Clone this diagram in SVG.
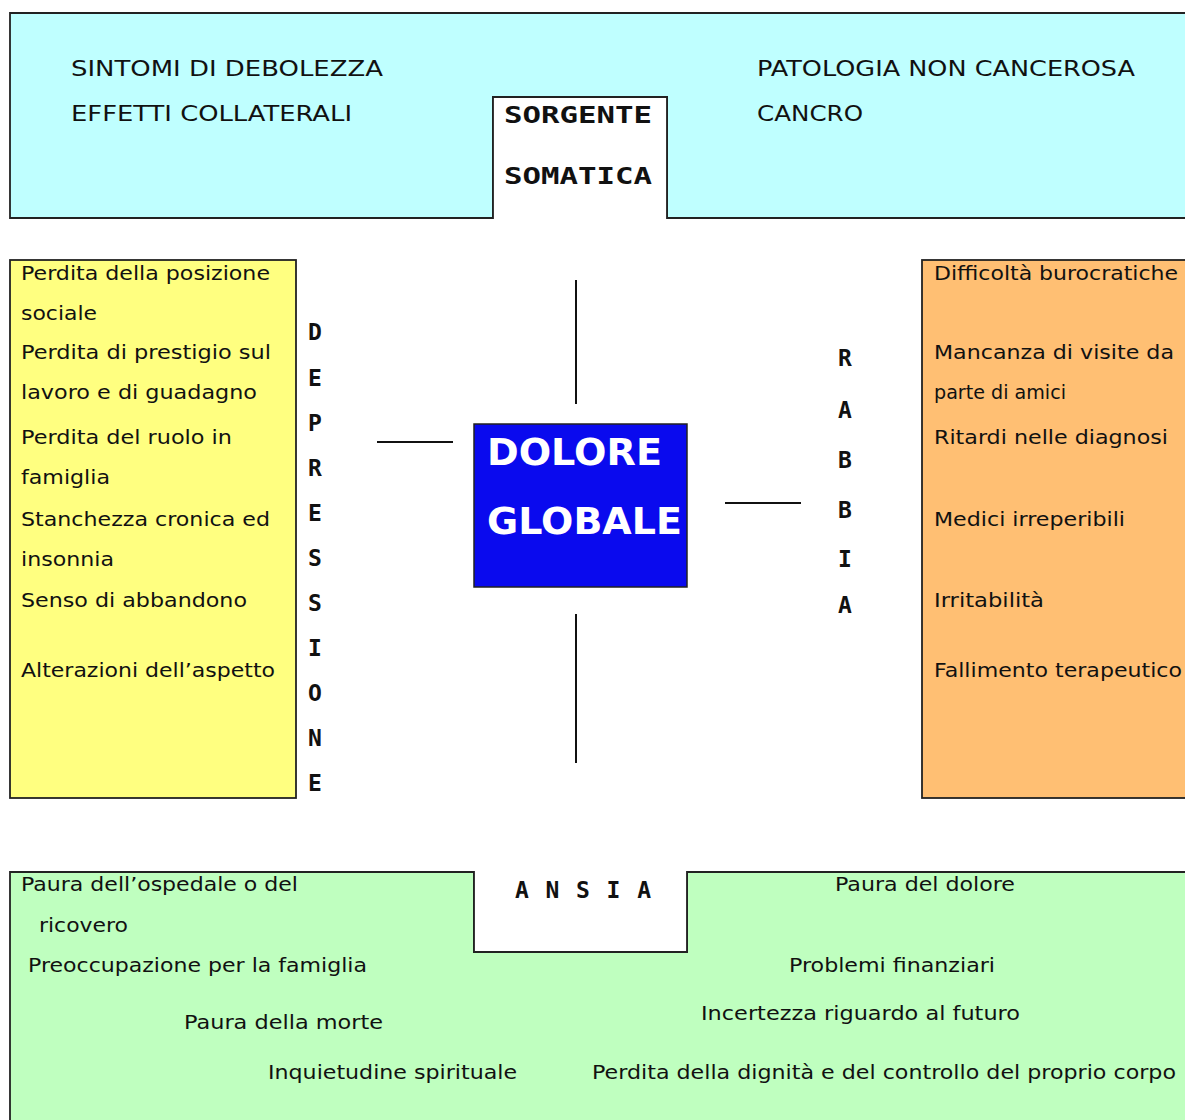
<svg xmlns="http://www.w3.org/2000/svg" width="1185" height="1120" viewBox="0 0 1185 1120">
<style>
.panel{stroke:#222;stroke-width:1.8}
.t{font-family:"DejaVu Sans","Liberation Sans",sans-serif;font-size:19px;fill:#111}
.cap{font-family:"DejaVu Sans","Liberation Sans",sans-serif;font-size:21px;fill:#111}
.b{font-family:"DejaVu Sans Mono","Liberation Mono",monospace;font-weight:bold;font-size:23px;fill:#111}
.v{font-family:"DejaVu Sans Mono","Liberation Mono",monospace;font-weight:bold;font-size:23px;fill:#111;text-anchor:middle}
.big{font-family:"DejaVu Sans","Liberation Sans",sans-serif;font-weight:bold;font-size:37px;fill:#fff}
.conn{stroke:#111;stroke-width:2;fill:none}
</style>
<rect width="1185" height="1120" fill="#fff"/>
<g id="somatica">
<path class="panel" d="M10,13 H1190 V218 H667 V97 H493 V218 H10 Z" fill="#BFFFFF"/>
<path class="panel" d="M493,218 V97 H667 V218" fill="#fff"/>
<text class="cap" x="71" y="76" textLength="312" lengthAdjust="spacingAndGlyphs">SINTOMI DI DEBOLEZZA</text>
<text class="cap" x="71" y="121" textLength="281" lengthAdjust="spacingAndGlyphs">EFFETTI COLLATERALI</text>
<text class="cap" x="757" y="76" textLength="378" lengthAdjust="spacingAndGlyphs">PATOLOGIA NON CANCEROSA</text>
<text class="cap" x="757" y="121" textLength="106" lengthAdjust="spacingAndGlyphs">CANCRO</text>
<text class="b" x="504" y="123" textLength="148" lengthAdjust="spacingAndGlyphs">SORGENTE</text>
<text class="b" x="504" y="184" textLength="148" lengthAdjust="spacingAndGlyphs">SOMATICA</text>
</g>
<g id="depressione">
<rect class="panel" x="10" y="260" width="286" height="538" fill="#FFFF80"/>
<text class="t" x="21" y="280" textLength="249" lengthAdjust="spacingAndGlyphs">Perdita della posizione</text>
<text class="t" x="21" y="320" textLength="76" lengthAdjust="spacingAndGlyphs">sociale</text>
<text class="t" x="21" y="359" textLength="250" lengthAdjust="spacingAndGlyphs">Perdita di prestigio sul</text>
<text class="t" x="21" y="399" textLength="236" lengthAdjust="spacingAndGlyphs">lavoro e di guadagno</text>
<text class="t" x="21" y="444" textLength="211" lengthAdjust="spacingAndGlyphs">Perdita del ruolo in</text>
<text class="t" x="21" y="484" textLength="89" lengthAdjust="spacingAndGlyphs">famiglia</text>
<text class="t" x="21" y="526" textLength="249" lengthAdjust="spacingAndGlyphs">Stanchezza cronica ed</text>
<text class="t" x="21" y="566" textLength="93" lengthAdjust="spacingAndGlyphs">insonnia</text>
<text class="t" x="21" y="607" textLength="226" lengthAdjust="spacingAndGlyphs">Senso di abbandono</text>
<text class="t" x="21" y="677" textLength="254" lengthAdjust="spacingAndGlyphs">Alterazioni dell’aspetto</text>
<text class="v" x="315" y="340">D</text>
<text class="v" x="315" y="386">E</text>
<text class="v" x="315" y="431">P</text>
<text class="v" x="315" y="476">R</text>
<text class="v" x="315" y="521">E</text>
<text class="v" x="315" y="566">S</text>
<text class="v" x="315" y="611">S</text>
<text class="v" x="315" y="656">I</text>
<text class="v" x="315" y="701">O</text>
<text class="v" x="315" y="746">N</text>
<text class="v" x="315" y="791">E</text>
</g>
<g id="rabbia">
<rect class="panel" x="922" y="260" width="270" height="538" fill="#FFBF73"/>
<text class="t" x="934" y="280" textLength="244" lengthAdjust="spacingAndGlyphs">Difficoltà burocratiche</text>
<text class="t" x="934" y="359" textLength="240" lengthAdjust="spacingAndGlyphs">Mancanza di visite da</text>
<text class="t" x="934" y="399" textLength="132" lengthAdjust="spacingAndGlyphs">parte di amici</text>
<text class="t" x="934" y="444" textLength="234" lengthAdjust="spacingAndGlyphs">Ritardi nelle diagnosi</text>
<text class="t" x="934" y="526" textLength="191" lengthAdjust="spacingAndGlyphs">Medici irreperibili</text>
<text class="t" x="934" y="607" textLength="110" lengthAdjust="spacingAndGlyphs">Irritabilità</text>
<text class="t" x="934" y="677" textLength="248" lengthAdjust="spacingAndGlyphs">Fallimento terapeutico</text>
<text class="v" x="845" y="366">R</text>
<text class="v" x="845" y="418">A</text>
<text class="v" x="845" y="468">B</text>
<text class="v" x="845" y="518">B</text>
<text class="v" x="845" y="567">I</text>
<text class="v" x="845" y="613">A</text>
</g>
<g id="dolore">
<rect x="474" y="424" width="213" height="163" fill="#0A0AEE" stroke="#222" stroke-width="1.5"/>
<text class="big" x="487" y="465" textLength="175" lengthAdjust="spacingAndGlyphs">DOLORE</text>
<text class="big" x="487" y="534" textLength="195" lengthAdjust="spacingAndGlyphs">GLOBALE</text>
</g>
<g id="ansia">
<path class="panel" d="M10,872 H474 V952 H687 V872 H1190 V1125 H10 Z" fill="#BFFFBF"/>
<path class="panel" d="M474,872 V952 H687 V872" fill="#fff"/>
<text class="b" x="515" y="898" textLength="136" lengthAdjust="spacing">ANSIA</text>
<text class="t" x="21" y="891" textLength="277" lengthAdjust="spacingAndGlyphs">Paura dell’ospedale o del</text>
<text class="t" x="39" y="932" textLength="89" lengthAdjust="spacingAndGlyphs">ricovero</text>
<text class="t" x="28" y="972" textLength="339" lengthAdjust="spacingAndGlyphs">Preoccupazione per la famiglia</text>
<text class="t" x="184" y="1029" textLength="199" lengthAdjust="spacingAndGlyphs">Paura della morte</text>
<text class="t" x="268" y="1079" textLength="249" lengthAdjust="spacingAndGlyphs">Inquietudine spirituale</text>
<text class="t" x="835" y="891" textLength="180" lengthAdjust="spacingAndGlyphs">Paura del dolore</text>
<text class="t" x="789" y="972" textLength="206" lengthAdjust="spacingAndGlyphs">Problemi finanziari</text>
<text class="t" x="701" y="1020" textLength="319" lengthAdjust="spacingAndGlyphs">Incertezza riguardo al futuro</text>
<text class="t" x="592" y="1079" textLength="584" lengthAdjust="spacingAndGlyphs">Perdita della dignità e del controllo del proprio corpo</text>
</g>
<g id="connectors">
<line class="conn" x1="576" y1="280" x2="576" y2="404"/>
<line class="conn" x1="576" y1="614" x2="576" y2="763"/>
<line class="conn" x1="377" y1="442" x2="453" y2="442"/>
<line class="conn" x1="725" y1="503" x2="801" y2="503"/>
</g>
</svg>
